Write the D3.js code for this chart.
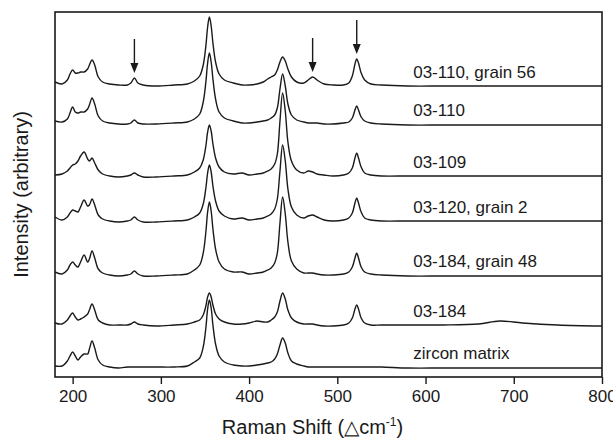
<!DOCTYPE html>
<html>
<head>
<meta charset="utf-8">
<script src="https://cdn.jsdelivr.net/npm/d3@7"></script>
<style>
  body { margin: 0; background: #fff; }
  text { font-family: "Liberation Sans", Arial, sans-serif; fill: #1a1a1a; }
</style>
</head>
<body>
<svg width="613" height="438"></svg>
<script>
// Raman shift grid (cm-1), grouped by region
var shifts = [
    180, 188, 194, 197, 200, 203, 206, 209, 213, 217, 219, 222, 225, 229, 234, 242,
    252, 262, 266, 270, 274, 280, 295, 315, 330,
    338, 344, 348, 351, 353, 355, 357, 359, 362, 366, 372, 382,
    392, 400, 409, 416, 421, 425, 429, 432, 435, 438, 441, 444, 448, 454,
    462, 467, 472, 477, 485, 495, 507, 513, 517, 520, 522, 524, 527, 531, 538, 550,
    580, 620, 660, 684, 710, 750, 800
];

// intensity above each trace's own baseline (arbitrary units)
var grain56 = [
    4, 2, 6, 12, 16, 13, 13, 14, 14, 17, 21, 26, 21, 9, 4, 2,
    1, 1, 3, 8, 3, 1, 0, 1, 2,
    5, 10, 21, 40, 59, 69, 60, 43, 24, 12, 6, 3,
    1, 1, 2, 4, 7, 9, 11, 16, 24, 29, 25, 17, 9, 4,
    3, 6, 9, 6, 2, 1, 1, 3, 10, 22, 27, 23, 13, 6, 2, 1,
    0, 0, 0, 0, 0, 0, 0
];
var s03110 = [
    3, 2, 5, 11, 17, 12, 11, 12, 12, 15, 19, 26, 20, 8, 3, 1,
    0, 0, 1, 4, 1, 0, 0, 1, 2,
    5, 10, 22, 42, 61, 71, 62, 45, 25, 12, 6, 3,
    1, 1, 2, 3, 4, 6, 9, 16, 35, 50, 38, 20, 9, 4,
    2, 1, 1, 1, 0, 0, 1, 2, 6, 14, 18, 14, 7, 3, 1, 0,
    -1, -1, -1, -1, -1, -1, -1
];
var s03109 = [
    1, 2, 5, 8, 11, 12, 15, 20, 24, 17, 15, 18, 13, 6, 2, 0,
    -1, 0, 1, 3, 1, -1, -1, 0, 1,
    4, 8, 16, 30, 44, 51, 45, 32, 18, 9, 4, 2,
    3, 1, 2, 3, 5, 7, 12, 22, 55, 83, 65, 34, 15, 6,
    3, 5, 4, 2, 1, 0, 1, 3, 8, 18, 23, 18, 9, 3, 1, 0,
    0, 0, 0, 0, 0, 0, 0
];
var grain2 = [
    4, 1, 4, 8, 11, 10, 9, 14, 21, 15, 16, 22, 16, 6, 2, 0,
    -1, 0, 1, 4, 1, -1, -1, 0, 1,
    4, 8, 17, 33, 48, 56, 49, 35, 20, 10, 5, 2,
    3, 1, 2, 3, 5, 7, 12, 22, 50, 76, 60, 32, 14, 6,
    3, 5, 6, 4, 1, 0, 1, 3, 8, 18, 23, 18, 9, 3, 1, 0,
    0, 0, 0, 0, 0, 0, 0
];
var grain48 = [
    3, 1, 5, 10, 13, 10, 8, 13, 20, 13, 16, 24, 17, 6, 2, 0,
    -1, 0, 1, 4, 1, -1, -1, 0, 1,
    5, 10, 22, 43, 63, 73, 64, 46, 26, 13, 6, 3,
    3, 1, 2, 3, 5, 7, 12, 22, 52, 78, 61, 33, 14, 6,
    2, 2, 2, 1, 0, 0, 1, 3, 8, 17, 22, 17, 8, 3, 1, 0,
    -1, -1, -1, -1, -1, -1, -1
];
var s03184 = [
    2, 1, 5, 9, 12, 8, 5, 6, 8, 11, 15, 21, 15, 5, 2, 0,
    0, 0, 1, 3, 1, 0, -1, 0, 1,
    3, 5, 10, 19, 28, 32, 28, 20, 11, 6, 3, 1,
    1, 2, 4, 3, 3, 5, 8, 13, 24, 32, 26, 15, 7, 3,
    1, 1, 1, 0, -1, -1, 0, 2, 7, 16, 20, 16, 7, 2, 0, 0,
    0, 0, 1, 4, 2, 0, -1
];
var zircon = [
    1, 1, 6, 11, 15, 11, 7, 10, 13, 13, 18, 26, 19, 7, 2, 0,
    -1, 0, 0, 0, 0, 0, 0, 0, 1,
    5, 9, 20, 39, 58, 67, 59, 42, 23, 11, 5, 2,
    1, 1, 2, 3, 4, 5, 8, 13, 22, 29, 24, 14, 6, 3,
    1, 0, 0, 0, 0, 0, 0, 0, 0, 0, 0, 0, 0, 0, 0, 0,
    -1, -1, -1, -1, -1, -1, -1
];

var spectra = [grain56, s03110, s03109, grain2, grain48, s03184, zircon];
var sampleNames = ["03-110, grain 56", "03-110", "03-109", "03-120, grain 2",
    "03-184, grain 48", "03-184", "zircon matrix"];
// vertical stacking offset of each trace
var offsets = [291, 253, 201, 156, 102, 52, 10];
// peaks marked with arrows on the top trace
var arrowShifts = [270, 472, 522];
var xTicks = [200, 300, 400, 500, 600, 700, 800];

drawChart();

function drawChart() {
    var svg = d3.select("svg");
    var mLeft = 55, mRight = 602, mTop = 12, mBottom = 377;

    var x = d3.scaleLinear().domain([180, 800]).range([mLeft, mRight]);
    var y = d3.scaleLinear().domain([0, 365]).range([mBottom, mTop]);

    var line = d3.line()
        .x(function(d) { return x(d[0]); })
        .y(function(d) { return y(d[1]); })
        .curve(d3.curveCatmullRom.alpha(0.5));

    spectra.forEach(function(vals, i) {
        var pts = shifts.map(function(s, j) { return [s, vals[j] + offsets[i]]; });
        svg.append("path")
            .attr("d", line(pts))
            .attr("fill", "none")
            .attr("stroke", "#1a1a1a")
            .attr("stroke-width", 1.4);

        svg.append("text")
            .attr("x", x(586))
            .attr("y", y(offsets[i]) - 8)
            .attr("font-size", 17)
            .text(sampleNames[i]);
    });

    // arrows over the top trace
    arrowShifts.forEach(function(s) {
        var j = shifts.indexOf(s);
        var tip = y(grain56[j] + offsets[0]) - 5;
        var ax = x(s);
        svg.append("line")
            .attr("x1", ax).attr("x2", ax)
            .attr("y1", tip - 34).attr("y2", tip - 8)
            .attr("stroke", "#1a1a1a").attr("stroke-width", 1.4);
        svg.append("path")
            .attr("d", "M" + (ax - 4) + "," + (tip - 10) + "L" + (ax + 4) + "," + (tip - 10) + "L" + ax + "," + tip + "Z")
            .attr("fill", "#1a1a1a");
    });

    // frame
    svg.append("rect")
        .attr("x", mLeft).attr("y", mTop)
        .attr("width", mRight - mLeft).attr("height", mBottom - mTop)
        .attr("fill", "none")
        .attr("stroke", "#1a1a1a")
        .attr("stroke-width", 1.6);

    var xAxis = svg.append("g")
        .attr("transform", "translate(0," + mBottom + ")")
        .call(d3.axisBottom(x).tickValues(xTicks).tickSize(7).tickSizeOuter(0).tickPadding(6));
    xAxis.select(".domain").remove();
    xAxis.selectAll("line").attr("stroke", "#1a1a1a").attr("stroke-width", 1.4);
    xAxis.selectAll("text")
        .attr("font-size", 17)
        .attr("font-family", "Liberation Sans, Arial, sans-serif")
        .attr("fill", "#1a1a1a");

    var xt = svg.append("text")
        .attr("x", (mLeft + mRight) / 2 - 16)
        .attr("y", 434)
        .attr("text-anchor", "middle")
        .attr("font-size", 20);
    xt.append("tspan").text("Raman Shift (\u25B3cm");
    xt.append("tspan").attr("font-size", 12).attr("dy", -8).text("-1");
    xt.append("tspan").attr("dy", 8).text(")");

    svg.append("text")
        .attr("transform", "translate(28," + ((mTop + mBottom) / 2) + ") rotate(-90)")
        .attr("text-anchor", "middle")
        .attr("font-size", 20)
        .text("Intensity (arbitrary)");
}
</script>
</body>
</html>
